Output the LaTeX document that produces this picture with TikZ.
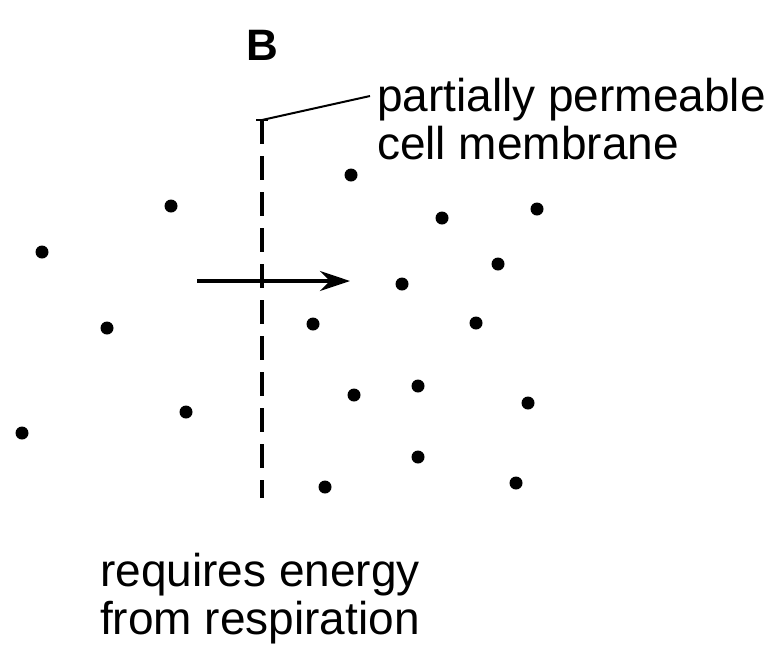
\documentclass[tikz,border=0pt]{standalone}
\usepackage{fontspec}
\setmainfont{Liberation Sans}
\usetikzlibrary{arrows.meta}
\begin{document}
\begin{tikzpicture}[x=1pt,y=-1pt,
  dot/.style={circle,fill=black,inner sep=0pt,minimum size=13pt},
  lbl/.style={anchor=west,inner sep=0pt,font=\fontsize{46}{48}\selectfont,align=left}]
\useasboundingbox (0,0) rectangle (783,662);
\node[font=\fontsize{44}{48}\selectfont\bfseries] (B) at (262,45) {B};
\coordinate (mt) at (262,120);
\coordinate (mb) at (262,498);
\draw[line width=3.5pt,dash pattern=on 24pt off 12pt] (mt) -- (mb);
\draw[line width=2.5pt] (256,120) -- (268,120);
\node[lbl] (memb) at (377,119) {partially permeable\\cell membrane};
\coordinate (lend) at (370,96);
\draw[line width=2pt] (mt) -- (lend);
\coordinate (a1) at (197,281); \coordinate (a2) at (350,281);
\draw[line width=3.5pt,-{Stealth[length=30pt,width=20pt]}] (a1) -- (a2);
\foreach \p [count=\i] in {(42,252),(171,206),(107,328),(186,412),(22,433),(351,175),(442,218),(537,209),(498,264),(402,284),(313,324),(476,323),(354,395),(418,386),(528,403),(418,457),(325,487),(516,483)}
  \node[dot] (d\i) at \p {};
\node[lbl] (req) at (100,599) {requires energy\\from respiration};
\end{tikzpicture}
\end{document}
